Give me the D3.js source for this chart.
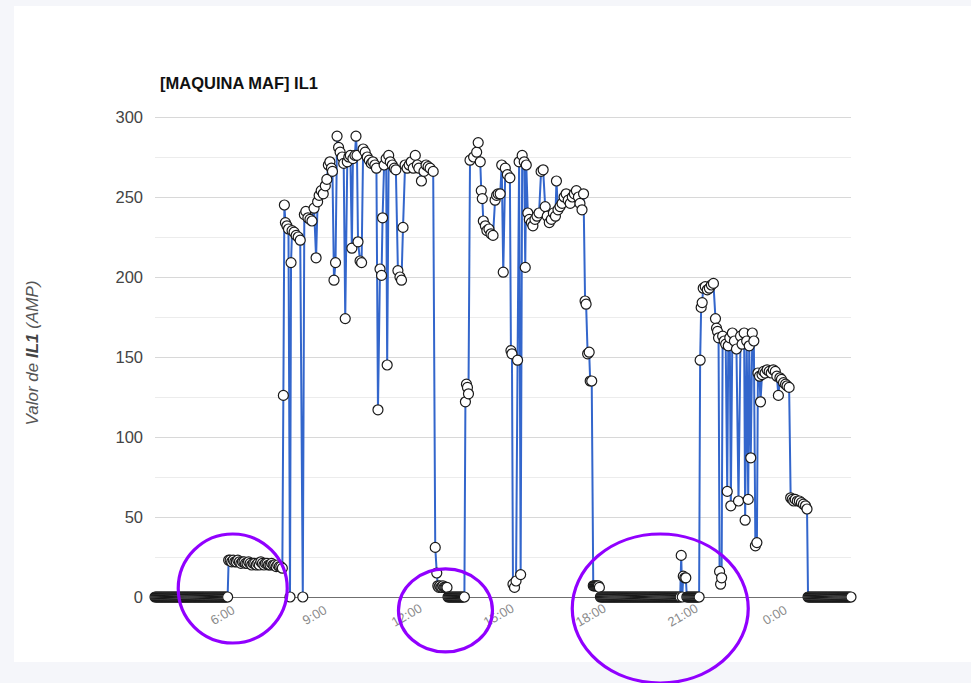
<!DOCTYPE html>
<html><head><meta charset="utf-8">
<script src="https://cdn.jsdelivr.net/npm/d3@7"></script>
<style>html,body{margin:0;padding:0;background:#f5f6fa;overflow:hidden}svg{display:block}</style>
</head><body>
<svg id="chart" width="971" height="683"></svg>
<script>
// ---------- data ----------
const chartTitle = "[MAQUINA MAF] IL1";
const yTitleParts = ["Valor de ", "IL1", " (AMP)"];
const yTicks = [0, 50, 100, 150, 200, 250, 300];
const yMinorTicks = [25, 75, 125, 175, 225, 275];
// minutes since 0:00 of the first day
const xTickTimes = [360, 540, 720, 900, 1080, 1260, 1440];
const xTickLabels = ["6:00", "9:00", "12:00", "15:00", "18:00", "21:00", "0:00"];

// [minute, IL1 (A)]
const readings = [
[229,0],[231,0],[233,0],[235,0],[237,0],[239,0],[241,0],[243,0],[245,0],[247,0],[249,0],[251,0],[253,0],[255,0],[257,0],[259,0],[261,0],[263,0],[265,0],[267,0],[269,0],[271,0],[273,0],[275,0],[277,0],[279,0],[281,0],[283,0],[285,0],[287,0],[289,0],[291,0],[293,0],[295,0],[297,0],[299,0],[301,0],[303,0],[305,0],[307,0],[309,0],[311,0],[313,0],[315,0],[317,0],[319,0],[321,0],[323,0],[325,0],[327,0],[329,0],[331,0],[333,0],[335,0],[337,0],[339,0],[341,0],[343,0],[345,0],[347,0],[349,0],[351,0],[353,0],[355,0],[357,0],[359,0],[361,0],[363,0],[365,0],[367,0],[369,0],[371,0],
[373,23],[376,23],[379,22],[382,23],[385,22],[388,22],[391,23],[394,22],[397,21],[400,22],[403,22],[406,21],[409,21],[412,22],[415,21],[418,20],[421,21],[424,21],[427,20],[430,21],[433,20],[436,22],[439,21],[442,20],[445,21],[448,21],[451,20],[454,20],[457,21],[460,20],[463,20],[466,19],[469,20],[472,19],[475,19],[478,18],
[480,126],[482,245],[484,234],[487,232],[490,230],[493,0],[495,209],[497,229],[501,228],[505,226],[509,225],[513,223],[518,0],
[521,239],[524,241],[528,237],[532,236],[536,235],[540,243],[544,212],[547,247],[550,251],[554,254],[558,252],[562,257],[565,261],[568,270],[571,272],[574,268],[576,266],[579,198],[582,209],[585,288],[588,281],[591,278],[595,275],[598,271],[601,174],[605,272],[608,275],[611,276],[614,218],[616,274],[620,276],[622,288],[624,276],[626,222],[630,210],[633,209],[636,280],[640,278],[644,275],[648,273],[652,271],[655,272],[659,270],[662,268],[665,117],[669,205],[672,201],[674,237],[677,270],[681,274],[683,145],[686,276],[689,272],[693,270],[697,268],[700,267],[704,204],[708,200],[711,198],[714,231],[718,270],[722,268],[726,270],[730,272],[734,268],[738,276],[742,270],[745,268],[750,260],[755,266],[759,270],[763,269],[767,268],[773,266],[777,31],[780,15],
[782,7],[784,6],[786,7],[788,6],[790,6],[792,7],[794,6],[796,6],[798,6],[800,6],
[802,0],[804,0],[806,0],[808,0],[810,0],[812,0],[814,0],[816,0],[818,0],[820,0],[822,0],[824,0],[826,0],[828,0],[830,0],[832,0],[834,0],
[836,122],[838,133],[840,131],[842,127],[845,273],[852,275],[858,278],[861,284],[865,272],[867,254],[869,249],[871,235],[875,232],[878,229],[882,230],[886,227],[890,226],[894,248],[897,251],[900,252],[904,252],[907,270],[910,203],[914,268],[918,264],[923,262],[925,154],[927,152],[929,8],[932,6],[935,10],[938,148],[941,272],[944,14],[947,276],[951,272],[953,206],[955,270],[958,240],[961,236],[965,234],[968,232],[972,236],[976,238],[980,240],[984,266],[988,267],[992,244],[996,238],[1000,234],[1004,236],[1008,240],[1012,238],[1014,260],[1017,242],[1021,244],[1025,246],[1029,250],[1033,252],[1037,248],[1041,246],[1045,250],[1049,252],[1053,254],[1057,250],[1060,246],[1064,242],[1067,252],[1070,185],[1072,183],[1075,152],[1078,153],[1080,135],[1083,135],
[1086,7],[1088,7],[1090,7],[1092,7],[1094,7],[1096,7],[1098,6],
[1100,0],[1102,0],[1104,0],[1106,0],[1108,0],[1110,0],[1112,0],[1114,0],[1116,0],[1118,0],[1120,0],[1122,0],[1124,0],[1126,0],[1128,0],[1130,0],[1132,0],[1134,0],[1136,0],[1138,0],[1140,0],[1142,0],[1144,0],[1146,0],[1148,0],[1150,0],[1152,0],[1154,0],[1156,0],[1158,0],[1160,0],[1162,0],[1164,0],[1166,0],[1168,0],[1170,0],[1172,0],[1174,0],[1176,0],[1178,0],[1180,0],[1182,0],[1184,0],[1186,0],[1188,0],[1190,0],[1192,0],[1194,0],[1196,0],[1198,0],[1200,0],[1202,0],[1204,0],[1206,0],[1208,0],[1210,0],[1212,0],[1214,0],[1216,0],[1218,0],[1220,0],[1222,0],[1224,0],[1226,0],[1228,0],[1230,0],[1232,0],[1234,0],[1236,0],[1238,0],[1240,0],[1242,0],[1244,0],[1246,0],[1248,0],[1250,0],[1252,0],[1254,0],[1256,0],
[1258,26],[1260,0],[1262,13],[1265,12],[1267,12],
[1269,0],[1271,0],[1273,0],[1275,0],[1277,0],[1279,0],[1281,0],[1283,0],[1285,0],[1287,0],[1289,0],[1291,0],[1293,0],
[1295,148],[1297,181],[1299,184],[1301,193],[1305,194],[1309,192],[1313,193],[1317,195],[1321,196],[1325,174],[1327,168],[1329,166],[1331,162],[1333,16],[1335,8],[1337,12],[1339,163],[1342,160],[1345,158],[1348,66],[1350,157],[1353,162],[1355,57],[1358,165],[1362,160],[1366,155],[1370,60],[1374,163],[1377,158],[1381,165],[1383,48],[1386,160],[1389,61],[1391,157],[1394,87],[1397,165],[1400,160],[1403,32],[1406,34],[1408,140],[1411,138],[1413,122],[1416,139],[1419,141],[1422,140],[1426,142],[1430,141],[1434,140],[1438,142],[1442,141],[1445,138],[1448,126],[1451,137],[1454,136],[1458,134],[1462,133],[1465,132],[1469,131],
[1472,62],[1475,61],[1478,60],[1481,61],[1485,60],[1489,60],[1493,59],[1497,58],[1501,57],[1504,55],
[1506,0],[1508,0],[1510,0],[1512,0],[1514,0],[1516,0],[1518,0],[1520,0],[1522,0],[1524,0],[1526,0],[1528,0],[1530,0],[1532,0],[1534,0],[1536,0],[1538,0],[1540,0],[1542,0],[1544,0],[1546,0],[1548,0],[1550,0],[1552,0],[1554,0],[1556,0],[1558,0],[1560,0],[1562,0],[1564,0],[1566,0],[1568,0],[1570,0],[1572,0],[1574,0],[1576,0],[1578,0],[1580,0],[1582,0],[1584,0],[1586,0],[1588,0],[1590,0]
];

// annotation circles: centre [minute, value]
const highlightCenters = [[381, 5.3], [797, -8.4], [1217, -7.2]];

// ---------- drawing ----------
(function () {
const svg = d3.select("#chart");
const pLeft = 155, pRight = 851, pTop = 117, pBottom = 597;
const font = "'Liberation Sans', Arial, Helvetica, sans-serif";

svg.append("rect").attr("x", 0).attr("y", 0).attr("width", 971).attr("height", 683).attr("fill", "#f5f6fa");
svg.append("rect").attr("x", 14).attr("y", 6).attr("width", 957).attr("height", 656).attr("fill", "#ffffff");

const x = d3.scaleLinear().domain(d3.extent(readings, d => d[0])).range([pLeft, pRight]);
const y = d3.scaleLinear().domain([0, 300]).range([pBottom, pTop]);

// minor grid
const gMinor = svg.append("g").attr("transform", `translate(${pLeft},0)`)
  .call(d3.axisLeft(y).tickValues(yMinorTicks).tickFormat("").tickSize(-(pRight - pLeft)));
gMinor.select(".domain").remove();
gMinor.selectAll("line").attr("stroke", "#ececec").attr("stroke-width", 1);

// major grid + labels
const gY = svg.append("g").attr("transform", `translate(${pLeft},0)`)
  .call(d3.axisLeft(y).tickValues(yTicks).tickSize(-(pRight - pLeft)).tickPadding(12));
gY.select(".domain").remove();
gY.selectAll("line").attr("stroke", d => d === 0 ? "none" : "#d8d8d8").attr("stroke-width", 1);
gY.selectAll("text").attr("font-family", font).attr("font-size", "16.5px").attr("fill", "#444");

// x axis
const gX = svg.append("g").attr("transform", `translate(0,${pBottom})`)
  .call(d3.axisBottom(x).tickValues(xTickTimes).tickFormat((d, i) => xTickLabels[i]).tickSize(0));
gX.select(".domain").attr("d", `M${pLeft},0.5H${pRight}`).attr("stroke", "#6f6f6f").attr("stroke-width", 1);
gX.selectAll("text")
  .attr("font-family", font).attr("font-size", "13px").attr("fill", "#8a8a8a")
  .attr("text-anchor", "middle").attr("y", 18).attr("dy", "0.35em")
  .attr("transform", "rotate(-30,0,18)");

// line
svg.append("path").datum(readings)
  .attr("fill", "none").attr("stroke", "#3366cc").attr("stroke-width", 2)
  .attr("stroke-linejoin", "round")
  .attr("d", d3.line().x(d => x(d[0])).y(d => y(d[1])));

// points
svg.append("g").selectAll("circle").data(readings).join("circle")
  .attr("cx", d => x(d[0])).attr("cy", d => y(d[1])).attr("r", 5)
  .attr("fill", "#ffffff").attr("stroke", "#1a1a1a").attr("stroke-width", 1.2);

// title
svg.append("text").attr("x", 160).attr("y", 89)
  .attr("font-family", font).attr("font-size", "16.5px").attr("font-weight", "bold").attr("fill", "#111")
  .text(chartTitle);

// y axis title
const yt = svg.append("text").attr("transform", "translate(38,353) rotate(-90)")
  .attr("text-anchor", "middle").attr("font-family", font).attr("font-size", "17px")
  .attr("font-style", "italic").attr("fill", "#555");
yt.selectAll("tspan").data(yTitleParts).join("tspan")
  .attr("font-weight", (d, i) => i === 1 ? "bold" : "normal")
  .attr("fill", (d, i) => i === 1 ? "#444" : "#555")
  .text(d => d);

// highlight ellipses
const radii = [[54.5, 54.5], [47, 41.5], [88, 74.5]];
svg.append("g").selectAll("ellipse").data(highlightCenters).join("ellipse")
  .attr("cx", d => x(d[0])).attr("cy", d => y(d[1]))
  .attr("rx", (d, i) => radii[i][0]).attr("ry", (d, i) => radii[i][1])
  .attr("fill", "none").attr("stroke", "#9100ff").attr("stroke-width", 3.2);
})();
</script>
</body></html>
